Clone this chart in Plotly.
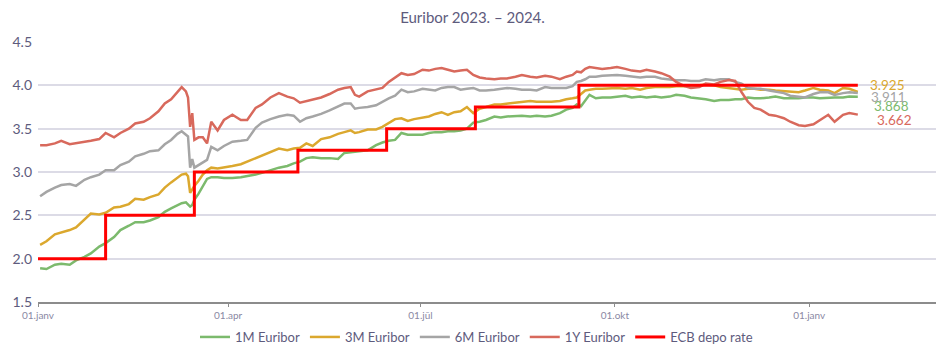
import plotly.graph_objects as go

dates = [
    "2023-01-02", "2023-01-05", "2023-01-09", "2023-01-12", "2023-01-16", "2023-01-19", "2023-01-23", "2023-01-26", "2023-01-30",
    "2023-02-02", "2023-02-06", "2023-02-09", "2023-02-13", "2023-02-16", "2023-02-20", "2023-02-23", "2023-02-27",
    "2023-03-02", "2023-03-05", "2023-03-08", "2023-03-10", "2023-03-12", "2023-03-13", "2023-03-14", "2023-03-15", "2023-03-16",
    "2023-03-18", "2023-03-20", "2023-03-22", "2023-03-24", "2023-03-27", "2023-03-30",
    "2023-04-03", "2023-04-07", "2023-04-10", "2023-04-14", "2023-04-17", "2023-04-21", "2023-04-25", "2023-04-29",
    "2023-05-02", "2023-05-05", "2023-05-08", "2023-05-11", "2023-05-15", "2023-05-19", "2023-05-23", "2023-05-26", "2023-05-29", "2023-05-31",
    "2023-06-02", "2023-06-06", "2023-06-10", "2023-06-13", "2023-06-16", "2023-06-19", "2023-06-22", "2023-06-25", "2023-06-28",
    "2023-07-02", "2023-07-05", "2023-07-08", "2023-07-11", "2023-07-14", "2023-07-17", "2023-07-20", "2023-07-23", "2023-07-26", "2023-07-29",
    "2023-08-01", "2023-08-05", "2023-08-08", "2023-08-11", "2023-08-15", "2023-08-18", "2023-08-22", "2023-08-25", "2023-08-29",
    "2023-09-01", "2023-09-05", "2023-09-08", "2023-09-11", "2023-09-13", "2023-09-15", "2023-09-17", "2023-09-19", "2023-09-22", "2023-09-25", "2023-09-29",
    "2023-10-02", "2023-10-06", "2023-10-09", "2023-10-13", "2023-10-16", "2023-10-20", "2023-10-23", "2023-10-27", "2023-10-30",
    "2023-11-03", "2023-11-06", "2023-11-10", "2023-11-13", "2023-11-17", "2023-11-20", "2023-11-24", "2023-11-27", "2023-11-30",
    "2023-12-03", "2023-12-06", "2023-12-09", "2023-12-13", "2023-12-16", "2023-12-20", "2023-12-23", "2023-12-27", "2023-12-30",
    "2024-01-03", "2024-01-06", "2024-01-10", "2024-01-13", "2024-01-17", "2024-01-20", "2024-01-24",
]

euribor_1m = [
    1.89, 1.88, 1.93, 1.94, 1.93, 1.98, 2.02, 2.06, 2.14,
    2.18, 2.25, 2.33, 2.38, 2.42, 2.42, 2.44, 2.48,
    2.54, 2.58, 2.62, 2.64, 2.65, 2.62, 2.60, 2.62, 2.68, 2.75, 2.83, 2.92, 2.94, 2.94, 2.93,
    2.93, 2.94, 2.95, 2.97, 2.99, 3.02, 3.05, 3.07,
    3.10, 3.12, 3.16, 3.17, 3.16, 3.16, 3.15, 3.22, 3.23, 3.24,
    3.24, 3.25, 3.31, 3.34, 3.36, 3.37, 3.45, 3.43, 3.43,
    3.43, 3.45, 3.46, 3.46, 3.47, 3.47, 3.48, 3.50, 3.57, 3.58,
    3.60, 3.64, 3.63, 3.64, 3.65, 3.65, 3.64, 3.65, 3.64,
    3.65, 3.68, 3.72, 3.74, 3.78, 3.76, 3.82, 3.89, 3.85, 3.86, 3.86,
    3.87, 3.88, 3.86, 3.87, 3.86, 3.87, 3.86, 3.87, 3.89,
    3.88, 3.86, 3.85, 3.84, 3.82, 3.83, 3.83, 3.84, 3.84,
    3.86, 3.85, 3.85, 3.86, 3.87, 3.85, 3.85, 3.85, 3.86,
    3.86, 3.85, 3.86, 3.86, 3.86, 3.87, 3.868,
]

euribor_3m = [
    2.16, 2.20, 2.28, 2.30, 2.33, 2.36, 2.45, 2.52, 2.51,
    2.53, 2.59, 2.60, 2.63, 2.69, 2.68, 2.71, 2.74,
    2.82, 2.88, 2.93, 2.97, 2.98, 2.95, 2.76, 2.80, 2.84, 2.90, 2.97, 3.02, 3.05, 3.04, 3.05,
    3.07, 3.09, 3.12, 3.16, 3.19, 3.23, 3.27, 3.25,
    3.27, 3.28, 3.33, 3.30, 3.38, 3.40, 3.44, 3.46, 3.48, 3.45,
    3.46, 3.49, 3.49, 3.52, 3.57, 3.61, 3.62, 3.59, 3.61,
    3.63, 3.64, 3.67, 3.69, 3.66, 3.69, 3.70, 3.75, 3.68, 3.73,
    3.75, 3.78, 3.78, 3.79, 3.80, 3.81, 3.82, 3.81, 3.81,
    3.81, 3.82, 3.84, 3.85, 3.86, 3.90, 3.94, 3.95, 3.96, 3.96, 3.97,
    3.97, 3.96, 3.97, 3.95, 3.97, 3.98, 3.98, 3.98, 3.99,
    3.99, 4.00, 4.00, 4.01, 4.00, 3.98, 3.97, 3.96, 3.95,
    3.96, 3.96, 3.95, 3.95, 3.94, 3.93, 3.93, 3.92, 3.94,
    3.97, 3.95, 3.94, 3.91, 3.97, 3.96, 3.925,
]

euribor_6m = [
    2.72, 2.77, 2.82, 2.85, 2.86, 2.84, 2.91, 2.94, 2.97,
    3.02, 3.02, 3.08, 3.12, 3.18, 3.21, 3.24, 3.25,
    3.32, 3.37, 3.44, 3.47, 3.43, 3.41, 3.05, 3.15, 3.05, 3.08, 3.10, 3.14, 3.29, 3.25, 3.30,
    3.35, 3.36, 3.37, 3.51, 3.57, 3.61, 3.64, 3.66,
    3.65, 3.58, 3.62, 3.64, 3.67, 3.71, 3.76, 3.79, 3.79, 3.73,
    3.74, 3.75, 3.77, 3.81, 3.85, 3.88, 3.95, 3.92, 3.93,
    3.96, 3.95, 3.94, 3.97, 3.98, 3.98, 3.95, 3.96, 3.97, 3.94,
    3.94, 3.95, 3.96, 3.97, 3.96, 3.95, 3.95, 3.94, 3.98,
    3.97, 3.97, 3.97, 3.99, 4.04, 4.05, 4.07, 4.10, 4.10, 4.11, 4.12,
    4.12, 4.11, 4.10, 4.09, 4.10, 4.10, 4.08, 4.07, 4.06,
    4.06, 4.05, 4.05, 4.07, 4.06, 4.07, 4.07, 4.04, 4.02,
    3.97, 3.96, 3.96, 3.94, 3.93, 3.91, 3.88, 3.87, 3.86,
    3.90, 3.92, 3.92, 3.89, 3.91, 3.92, 3.911,
]

euribor_1y = [
    3.31, 3.31, 3.33, 3.36, 3.32, 3.33, 3.35, 3.36, 3.38,
    3.45, 3.40, 3.45, 3.50, 3.56, 3.58, 3.62, 3.70,
    3.79, 3.84, 3.92, 3.98, 3.93, 3.86, 3.52, 3.68, 3.37, 3.40, 3.40, 3.33, 3.58, 3.48, 3.60,
    3.66, 3.60, 3.60, 3.74, 3.78, 3.86, 3.91, 3.87,
    3.85, 3.80, 3.82, 3.84, 3.86, 3.90, 3.95, 3.97, 3.98, 3.89,
    3.87, 3.93, 3.95, 3.97, 4.04, 4.09, 4.14, 4.12, 4.13,
    4.18, 4.17, 4.19, 4.20, 4.18, 4.16, 4.17, 4.18, 4.12, 4.09,
    4.08, 4.07, 4.08, 4.08, 4.10, 4.12, 4.10, 4.09, 4.11,
    4.10, 4.07, 4.10, 4.12, 4.16, 4.15, 4.19, 4.21, 4.20, 4.19, 4.20,
    4.21, 4.19, 4.17, 4.16, 4.18, 4.16, 4.14, 4.10, 4.04,
    3.99, 3.97, 3.98, 4.02, 4.01, 4.04, 4.06, 4.05, 3.92,
    3.81, 3.74, 3.72, 3.66, 3.65, 3.62, 3.58, 3.54, 3.53,
    3.55, 3.60, 3.66, 3.58, 3.66, 3.68, 3.662,
]

ecb_dates = ["2023-01-01", "2023-02-02", "2023-03-16", "2023-05-04", "2023-06-15", "2023-07-27", "2023-09-14", "2024-01-24"]
ecb_rate = [2.00, 2.50, 3.00, 3.25, 3.50, 3.75, 4.00, 4.00]

series_names = ["1M Euribor", "3M Euribor", "6M Euribor", "1Y Euribor"]
series_values = [euribor_1m, euribor_3m, euribor_6m, euribor_1y]
series_colors = ["#7cba6d", "#dba82e", "#a5a5a5", "#d8695c"]
end_labels = ["3.868", "3.925", "3.911", "3.662"]
label_shifts = [(14, -9), (10, 7), (11, -4), (17, -5)]

tick_dates = ["2023-01-01", "2023-04-01", "2023-07-01", "2023-10-01", "2024-01-01"]
tick_labels = ["01.janv", "01.apr", "01.jūl", "01.okt", "01.janv"]

text_color = "#5e5b7d"
font_family = "Lato, 'Open Sans', sans-serif"

# page body adds an 8px offset; the figure is sized to compensate
W, H = 937, 348

fig = go.Figure()
for name, vals, col in zip(series_names, series_values, series_colors):
    fig.add_trace(go.Scatter(x=dates, y=vals, mode="lines", name=name,
                             line=dict(color=col, width=2.5)))
fig.add_trace(go.Scatter(x=ecb_dates, y=ecb_rate, mode="lines", name="ECB depo rate",
                         line=dict(color="#ff0000", width=3, shape="hv")))

for vals, col, lab, (dx, dy) in zip(series_values, series_colors, end_labels, label_shifts):
    fig.add_annotation(x=dates[-1], y=vals[-1], text=lab, showarrow=False,
                       xanchor="left", yanchor="middle", xshift=dx, yshift=dy,
                       font=dict(color=col, size=13.5, family=font_family))

fig.update_layout(
    width=W, height=H,
    margin=dict(l=30, r=9, t=34, b=54, autoexpand=False),
    paper_bgcolor="white", plot_bgcolor="white",
    font=dict(family=font_family, color=text_color),
    title=dict(text="Euribor 2023. – 2024.", x=0.5 - 4 / W, xref="container", xanchor="center",
               y=1 - 10 / H, yref="container", yanchor="middle",
               font=dict(size=15, color=text_color)),
    showlegend=True,
    legend=dict(orientation="h", x=0.5, xanchor="center", xref="container",
                y=1 - 329 / H, yref="container", yanchor="middle",
                font=dict(size=13, color=text_color), itemwidth=30),
)
fig.update_xaxes(type="date", range=["2023-01-01", "2024-03-01"],
                 tickvals=tick_dates, ticktext=tick_labels, automargin=False,
                 showgrid=False, showline=True, linecolor="#8c8c8c", linewidth=2,
                 ticks="outside", ticklen=3, tickcolor="#8c8c8c",
                 tickfont=dict(size=10, color="#8a88a3"), zeroline=False)
fig.update_yaxes(range=[1.5, 4.5], dtick=0.5, tickformat=".1f", automargin=False,
                 showgrid=True, gridcolor="#dcdbe6", gridwidth=1.5,
                 showline=False, zeroline=False,
                 tickfont=dict(size=14, color=text_color), ticks="", ticklabelstandoff=5)

fig.write_html("out.html")
